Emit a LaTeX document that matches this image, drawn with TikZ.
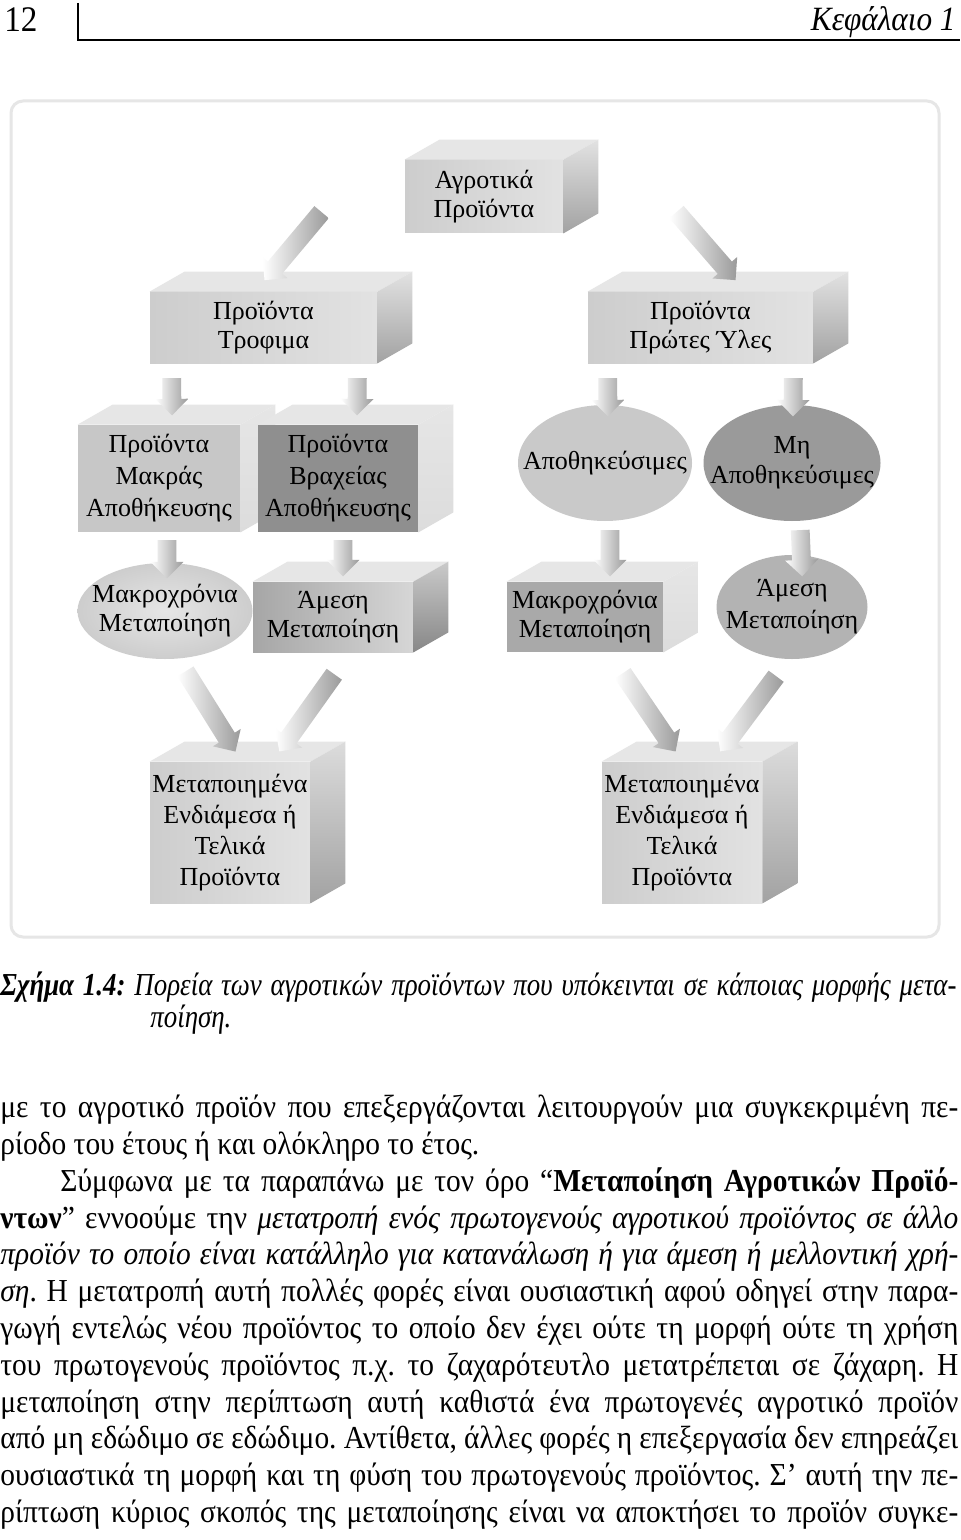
\documentclass[tikz,border=0pt]{standalone}
\usepackage{fontspec}
\setmainfont{Liberation Serif}
\newfontfamily\bodyfont[FakeStretch=0.92]{Liberation Serif}
\newfontfamily\capfont[FakeStretch=0.84]{Liberation Serif}
\usetikzlibrary{calc,shapes.geometric,shapes.arrows}
\definecolor{FrameGray}{HTML}{E6E6E6}
\definecolor{TopFace}{HTML}{E6E6E6}
\definecolor{LightFront}{HTML}{CDCDCD}
\definecolor{PaleFront}{HTML}{E2E2E2}
\definecolor{MidGray}{HTML}{C7C7C7}
\definecolor{MidDark}{HTML}{A9A9A9}
\definecolor{DarkGray}{HTML}{8F8F8F}
\definecolor{GradDark}{HTML}{A6A6A6}
\definecolor{GradLight}{HTML}{D6D6D6}
\definecolor{SideLight}{HTML}{DCDCDC}
\definecolor{SideMid}{HTML}{CACACA}
\definecolor{SideDark}{HTML}{A2A2A2}
\definecolor{SideDeep}{HTML}{878787}
\definecolor{OvalLight}{HTML}{C9C9C9}
\definecolor{OvalPale}{HTML}{E6E6E6}
\definecolor{OvalEdge}{HTML}{CDCDCD}
\definecolor{OvalMid}{HTML}{B3B3B3}
\definecolor{OvalDark}{HTML}{9A9A9A}
\definecolor{ArrowGray}{HTML}{9A9A9A}

\newcommand{\boxsides}[4]{%
  \fill[#2] (#1.north west) -- ++(35,-20) -- ($(#1.north east)+(35,-20)$) -- (#1.north east) -- cycle;
  \shade[top color=#3,bottom color=#4] (#1.north east) -- ++(35,-20) -- ($(#1.south east)+(35,-20)$) -- (#1.south east) -- cycle;}
\newcommand{\flow}[2]{%
  \path let \p1=(#1), \p2=(#2), \n1={veclen(\x2-\x1,\y2-\y1)} in (\p1) -- (\p2)
    node[flowarrow,midway,sloped,allow upside down,minimum height=\n1] {};}
\newcommand{\jline}[2]{\makebox[#1][s]{#2}}

\begin{document}
\frenchspacing
\begin{tikzpicture}[x=0.5pt,y=-0.5pt,
  figtext/.style={font=\fontsize{13}{14.5}\selectfont,align=center},
  front/.style={rectangle,inner sep=0pt,figtext},
  oval/.style={ellipse,inner sep=0pt},
  flowarrow/.style={single arrow,inner sep=4.5pt,single arrow head extend=3.5pt,
                    left color=white,right color=ArrowGray},
  textline/.style={anchor=base west,inner sep=0pt,font=\bodyfont\fontsize{16}{19}\selectfont},
  capline/.style={anchor=base west,inner sep=0pt,font=\capfont\fontsize{16}{19}\selectfont}]
  \fill[white] (0,0) rectangle (960,1540);
  \useasboundingbox (0,0) rectangle (960,1540);

  \node[textline,font=\bodyfont\fontsize{18}{20}\selectfont] (pageno) at (4,32) {12};
  \node[textline,anchor=base east,font=\bodyfont\itshape\fontsize{17}{20}\selectfont] (chapter) at (956,31) {Κεφάλαιο 1};
  \draw[line width=0.9pt] (78,3) -- (78,40) -- (960,40);

  \draw[FrameGray,line width=1.5pt,rounded corners=6pt] (11,101) rectangle (939,937);

  \node[front,left color=LightFront,right color=PaleFront,minimum width=79pt,minimum height=36.5pt]
    (agro) at (484,196.5) {Αγροτικά\\Προϊόντα};
  \boxsides{agro}{TopFace}{PaleFront}{SideDark}
  \node[front,left color=LightFront,right color=PaleFront,minimum width=113.5pt,minimum height=35.5pt]
    (trof) at (263.5,327.5) {Προϊόντα\\Τροφιμα};
  \boxsides{trof}{TopFace}{PaleFront}{SideDark}
  \node[front,left color=LightFront,right color=PaleFront,minimum width=112.5pt,minimum height=35.5pt]
    (prwt) at (700.5,327.5) {Προϊόντα\\Πρώτες Ύλες};
  \boxsides{prwt}{TopFace}{PaleFront}{SideDark}

  \node[front,fill=MidGray,minimum width=81pt,minimum height=53.5pt,font=\fontsize{13}{16}\selectfont]
    (makr) at (159,478.5) {Προϊόντα\\Μακράς\\Αποθήκευσης};
  \boxsides{makr}{TopFace}{TopFace}{SideLight}
  \node[front,fill=DarkGray,minimum width=80pt,minimum height=53.5pt,font=\fontsize{13}{16}\selectfont]
    (vrax) at (338,478.5) {Προϊόντα\\Βραχείας\\Αποθήκευσης};
  \boxsides{vrax}{TopFace}{TopFace}{SideLight}
  \node[oval,fill=OvalLight,minimum width=87pt,minimum height=58pt,
        label={[figtext]center:{Αποθηκεύσιμες}}] (apoth) at (605,463) {};
  \node[oval,fill=OvalDark,minimum width=88.5pt,minimum height=58pt,
        label={[figtext,font=\fontsize{13}{15}\selectfont]center:{Μη\\Αποθηκεύσιμες}}] (miapoth) at (792,463) {};

  \node[oval,inner color=OvalPale,outer color=OvalEdge,minimum width=87.5pt,minimum height=48pt,
        label={[figtext]center:{Μακροχρόνια\\Μεταποίηση}}] (makrL) at (165,611) {};
  \node[front,left color=GradDark,right color=GradLight,minimum width=80pt,minimum height=35pt]
    (amesL) at (333,617) {Άμεση\\Μεταποίηση};
  \boxsides{amesL}{TopFace}{SideMid}{SideDeep}
  \node[front,fill=MidDark,minimum width=78pt,minimum height=35pt]
    (makrR) at (585,617) {Μακροχρόνια\\Μεταποίηση};
  \boxsides{makrR}{TopFace}{TopFace}{SideLight}
  \node[oval,fill=OvalMid,minimum width=75.5pt,minimum height=52pt,
        label={[figtext,font=\fontsize{13}{16}\selectfont]center:{Άμεση\\Μεταποίηση}}] (amesR) at (792,607) {};

  \node[front,left color=LightFront,right color=PaleFront,minimum width=80pt,minimum height=70.5pt,
        font=\fontsize{13}{15.5}\selectfont]
    (bl) at (230,832.5) {Μεταποιημένα\\Ενδιάμεσα ή\\Τελικά\\Προϊόντα};
  \boxsides{bl}{TopFace}{SideLight}{SideDark}
  \node[front,left color=LightFront,right color=PaleFront,minimum width=80pt,minimum height=70.5pt,
        font=\fontsize{13}{15.5}\selectfont]
    (br) at (682,832.5) {Μεταποιημένα\\Ενδιάμεσα ή\\Τελικά\\Προϊόντα};
  \boxsides{br}{TopFace}{SideLight}{SideDark}

  \flow{$(agro.west)+(-80,12)$}{$(trof.north)+(4,-15)$}
  \flow{$(agro.east)+(110,12)$}{$(prwt.north)+(32,-15)$}
  \flow{$(trof.south west)+(22,10)$}{$(makr.north)+(13,-14)$}
  \flow{$(trof.south east)+(-20,10)$}{$(vrax.north)+(19,-14)$}
  \flow{$(prwt.south west)+(20,10)$}{$(apoth.north)+(3,7)$}
  \flow{$(prwt.south east)+(-20,10)$}{$(miapoth.north)+(1,7)$}
  \flow{$(makr.south)+(8,3)$}{$(makrL.north)+(2,11)$}
  \flow{$(vrax.south)+(5,3)$}{$(amesL.north)+(10,-10)$}
  \flow{$(apoth.south)+(5,4)$}{$(makrR.north)+(25,-10)$}
  \flow{$(miapoth.south)+(8,4)$}{$(amesR.north)+(10,17)$}
  \flow{$(makrL.south)+(18,8)$}{$(bl.north)+(3,-14)$}
  \flow{$(amesL.south)+(4,18)$}{$(bl.north)+(52,-14)$}
  \flow{$(makrR.south)+(35,17)$}{$(br.north)+(-9,-14)$}
  \flow{$(amesR.south)+(-13,13)$}{$(br.north)+(41,-14)$}

  \node[capline] (cap1) at (0,995) {\jline{478pt}{\textbf{\textit{Σχήμα 1.4:}} \textit{Πορεία των αγροτικών προϊόντων που υπόκεινται σε κάποιας μορφής μετα-}}};
  \node[capline] (cap2) at (150,1027) {\textit{ποίηση.}};

  \node[textline] (l1) at (0,1117) {\jline{479pt}{με το αγροτικό προϊόν που επεξεργάζονται λειτουργούν μια συγκεκριμένη πε-}};
  \node[textline] (l2) at (0,1154) {ρίοδο του έτους ή και ολόκληρο το έτος.};
  \node[textline] (l3) at (60,1191) {\jline{449pt}{Σύμφωνα με τα παραπάνω με τον όρο “\textbf{Μεταποίηση Αγροτικών Προϊό-}}};
  \node[textline] (l4) at (0,1228) {\jline{479pt}{\textbf{ντων}” εννοούμε την \textit{μετατροπή ενός πρωτογενούς αγροτικού προϊόντος σε άλλο}}};
  \node[textline] (l5) at (0,1264) {\jline{479pt}{\textit{προϊόν το οποίο είναι κατάλληλο για κατανάλωση ή για άμεση ή μελλοντική χρή-}}};
  \node[textline] (l6) at (0,1301) {\jline{479pt}{\textit{ση}. Η μετατροπή αυτή πολλές φορές είναι ουσιαστική αφού οδηγεί στην παρα-}};
  \node[textline] (l7) at (0,1338) {\jline{479pt}{γωγή εντελώς νέου προϊόντος το οποίο δεν έχει ούτε τη μορφή ούτε τη χρήση}};
  \node[textline] (l8) at (0,1375) {\jline{479pt}{του πρωτογενούς προϊόντος π.χ. το ζαχαρότευτλο μετατρέπεται σε ζάχαρη. Η}};
  \node[textline] (l9) at (0,1412) {\jline{479pt}{μεταποίηση στην περίπτωση αυτή καθιστά ένα πρωτογενές αγροτικό προϊόν}};
  \node[textline] (l10) at (0,1448) {\jline{479pt}{από μη εδώδιμο σε εδώδιμο. Αντίθετα, άλλες φορές η επεξεργασία δεν επηρεάζει}};
  \node[textline] (l11) at (0,1485) {\jline{479pt}{ουσιαστικά τη μορφή και τη φύση του πρωτογενούς προϊόντος. Σ’ αυτή την πε-}};
  \node[textline] (l12) at (0,1522) {\jline{479pt}{ρίπτωση κύριος σκοπός της μεταποίησης είναι να αποκτήσει το προϊόν συγκε-}};
\end{tikzpicture}
\end{document}
